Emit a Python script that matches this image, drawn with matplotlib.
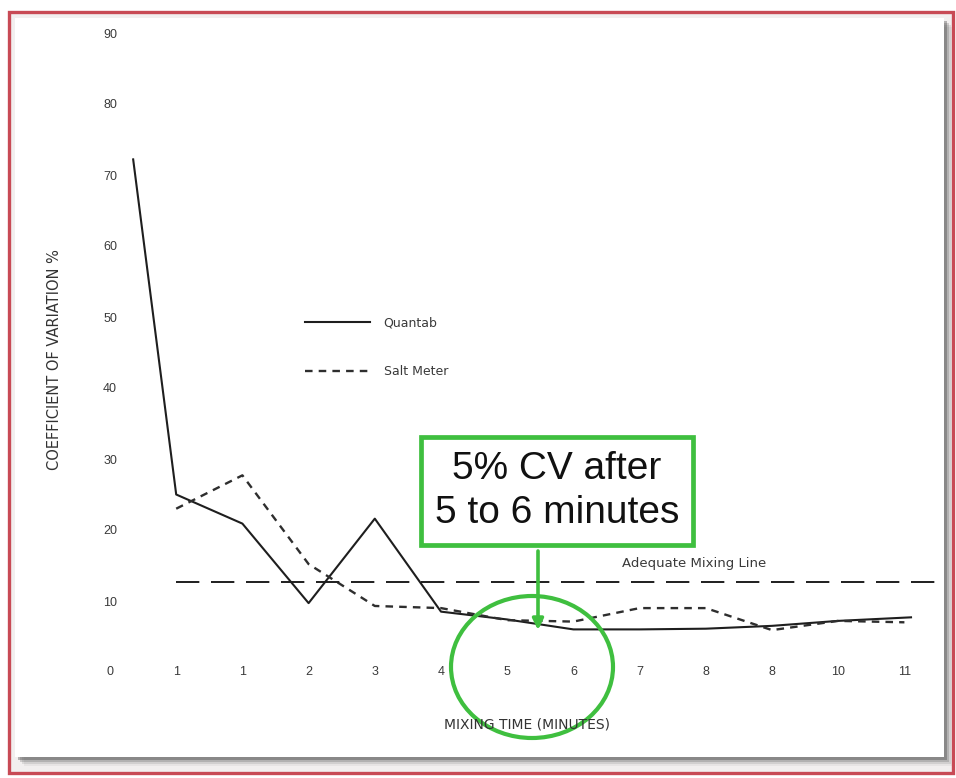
import matplotlib
matplotlib.use("Agg")
import matplotlib.pyplot as plt
from matplotlib.patches import Rectangle, Ellipse
from matplotlib.lines import Line2D

plt.rcParams["font.family"] = ["Liberation Sans", "DejaVu Sans"]
WIDE = ["DejaVu Sans"]

# ---- data -------------------------------------------------------------
tick_positions = [0, 1, 2, 3, 4, 5, 6, 7, 8, 9, 10, 11, 12]
tick_labels = ["0", "1", "1", "2", "3", "4", "5", "6", "7", "8", "8", "10", "11"]
cv_ticks = [10, 20, 30, 40, 50, 60, 70, 80, 90]

quantab_minutes = [0.35, 1, 2, 3, 4, 5, 6, 7, 8, 9, 10, 11, 12.1]
quantab_cv = [72.2, 25.0, 20.9, 9.7, 21.6, 8.5, 7.4, 6.0, 6.0, 6.1, 6.5, 7.2, 7.7]

salt_minutes = [1, 2, 3, 4, 5, 6, 7, 8, 9, 10, 11, 12]
salt_cv = [23.0, 27.7, 15.2, 9.3, 9.0, 7.3, 7.1, 9.0, 9.0, 5.9, 7.2, 7.0]

adequate_cv = 12.7

# ---- figure & frame ---------------------------------------------------
W, H = 956, 778
fig = plt.figure(figsize=(W / 100, H / 100), dpi=100)
fig.patch.set_facecolor("white")


def rect_px(x0, y0, x1, y1, **kw):
    """Rectangle given in pixel units measured from the top-left corner."""
    return Rectangle((x0 / W, 1 - y1 / H), (x1 - x0) / W, (y1 - y0) / H,
                     transform=fig.transFigure, **kw)


# light backdrop inside the red border
fig.add_artist(rect_px(10, 13, 952, 772, facecolor="#f2efef", edgecolor="none", zorder=0))
# soft drop shadow under the white panel
for off, alpha in [(9, 0.06), (7, 0.12), (5, 0.2), (3, 0.34)]:
    fig.add_artist(rect_px(15 + off, 18 + off, 944 + off, 757 + off,
                           facecolor="#3a3a3a", edgecolor="none", alpha=alpha, zorder=0.5))
# white panel
fig.add_artist(rect_px(15, 18, 944, 757, facecolor="white", edgecolor="none", zorder=1))
# red border
fig.add_artist(rect_px(9, 12, 953, 773, facecolor="none", edgecolor="#c84a55",
                       linewidth=2.4, zorder=5))

# ---- axes -------------------------------------------------------------
X0, DX = 110, 66.2      # pixel of minute 0, pixels per tick
Y0, DY = 672, 7.1       # pixel of CV 0, pixels per CV %
ax_l, ax_r, ax_t, ax_b = 40, 944, 18, 757
ax = fig.add_axes([ax_l / W, 1 - ax_b / H, (ax_r - ax_l) / W, (ax_b - ax_t) / H], zorder=2)
ax.patch.set_alpha(0)
ax.set_xlim((ax_l - X0) / DX, (ax_r - X0) / DX)
ax.set_ylim((Y0 - ax_b) / DY, (Y0 - ax_t) / DY)

for s in ax.spines.values():
    s.set_visible(False)
ax.spines["bottom"].set_position(("data", 0))
ax.spines["left"].set_position(("data", 0))

ax.set_xticks(tick_positions)
ax.set_xticklabels(tick_labels)
ax.set_yticks(cv_ticks)
ax.set_yticklabels([str(v) for v in cv_ticks])
ax.tick_params(axis="x", length=0, pad=-4.6, labelsize=9, labelcolor="#3a3a3a")
ax.tick_params(axis="y", length=0, pad=-5.0, labelsize=9, labelcolor="#3a3a3a")

# ---- series -----------------------------------------------------------
ax.plot(quantab_minutes, quantab_cv, color="#1e1e1e", lw=1.5, zorder=3)
ax.plot(salt_minutes, salt_cv, color="#2e2e2e", lw=1.7, linestyle=(0, (3.2, 2.6)), zorder=3)
ax.hlines(adequate_cv, salt_minutes[0], ax.get_xlim()[1], color="#1e1e1e", lw=1.4,
          linestyles=[(0, (12, 6))], zorder=3)
ax.text(8.82, adequate_cv + 2.6, "Adequate Mixing Line", ha="center", va="center",
        fontsize=9.5, family=WIDE, color="#3a3a3a")

# legend
handles = [Line2D([], [], color="#1e1e1e", lw=1.5),
           Line2D([], [], color="#2e2e2e", lw=1.7, linestyle=(0, (3.2, 2.6)))]
leg = ax.legend(handles, ["Quantab", "Salt Meter"], loc="upper left",
                bbox_to_anchor=(305 / W, 1 - 316 / H), bbox_transform=fig.transFigure,
                frameon=False, handlelength=5.2, handletextpad=1.1, labelspacing=2.9,
                prop={"family": WIDE, "size": 9}, borderpad=0, borderaxespad=0)
for t in leg.get_texts():
    t.set_color("#3a3a3a")

# axis titles
fig.text(527 / W, 1 - 724 / H, "MIXING TIME (MINUTES)", ha="center", va="center",
         fontsize=10, family=WIDE, color="#333333", zorder=3)
fig.text(55 / W, 1 - 360 / H, "COEFFICIENT OF VARIATION %", ha="center", va="center",
         rotation=90, fontsize=10.5, family=WIDE, color="#333333", zorder=3)

# ---- callout ----------------------------------------------------------
green = "#3fbf3f"
ax.text((557 - X0) / DX, (Y0 - 491) / DY, "5% CV after\n5 to 6 minutes",
        ha="center", va="center", fontsize=28, linespacing=1.31, color="#111111",
        bbox=dict(boxstyle="square,pad=0.36", facecolor="white", edgecolor=green, linewidth=3.4),
        zorder=6)
ax.annotate("", xy=((538 - X0) / DX, (Y0 - 630) / DY),
            xytext=((538 - X0) / DX, (Y0 - 551) / DY),
            arrowprops=dict(arrowstyle="-|>", color=green, lw=2.6, shrinkA=0, shrinkB=0,
                            mutation_scale=16), zorder=5)
ax.add_patch(Ellipse(((532 - X0) / DX, (Y0 - 667) / DY), 162 / DX, 142 / DY,
                     facecolor="none", edgecolor=green, linewidth=3.0, clip_on=False, zorder=6))

fig.savefig("out.png", dpi=100)
